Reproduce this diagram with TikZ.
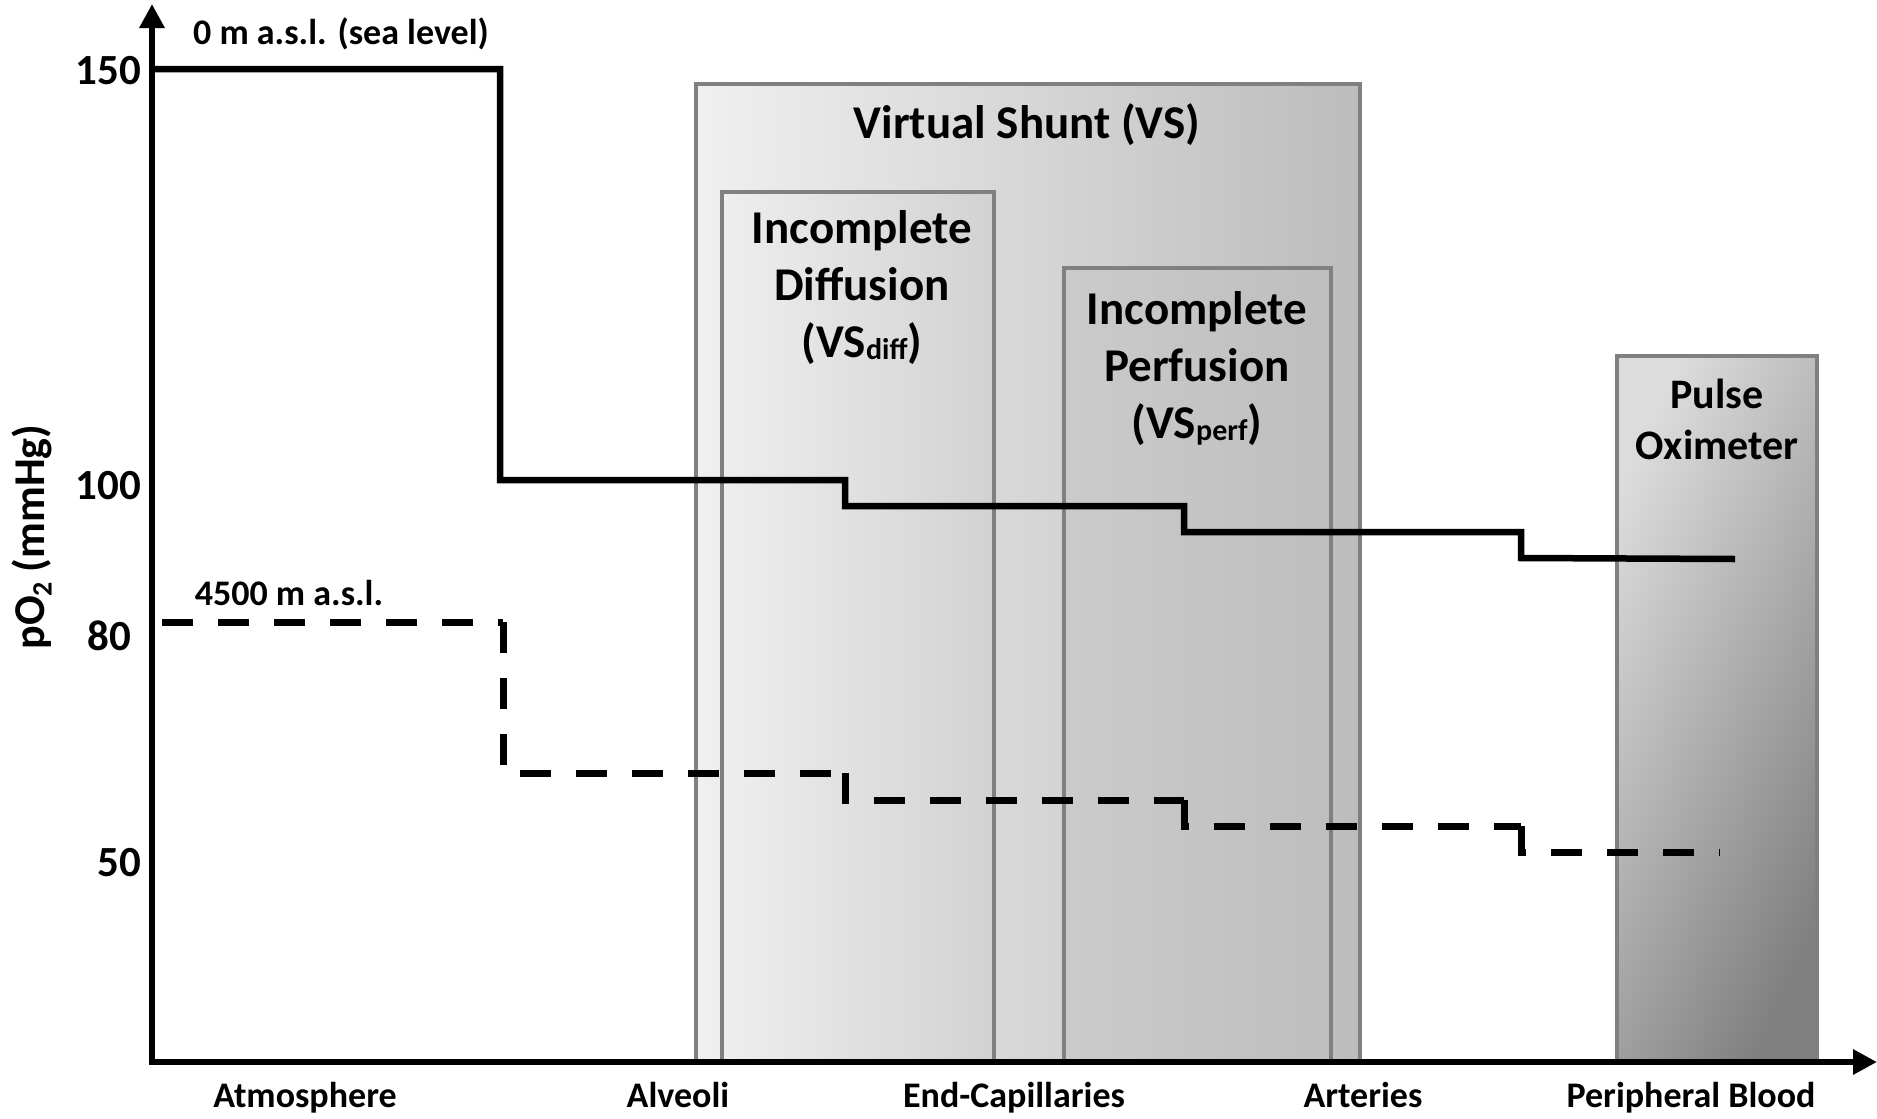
\documentclass[tikz,border=0pt]{standalone}
\usepackage{fontspec}
\setmainfont{Carlito}
\usetikzlibrary{arrows.meta}
\definecolor{bordergray}{HTML}{808080}
\definecolor{vsL}{HTML}{F0F0F0}
\definecolor{vsR}{HTML}{BCBCBC}
\definecolor{dfL}{HTML}{EEEEEE}
\definecolor{dfR}{HTML}{D2D2D2}
\definecolor{pfL}{HTML}{CBCBCB}
\definecolor{pfR}{HTML}{BEBEBE}
\definecolor{poL}{HTML}{DCDCDC}
\definecolor{poR}{HTML}{808080}
\newcommand\myfs[2]{\fontsize{#1}{#2}\selectfont}
\begin{document}
\begin{tikzpicture}[x=1pt,y=-1pt,
  region/.style={draw=bordergray, line width=4.5pt, inner sep=0pt, outer sep=0pt, anchor=north west},
  axisline/.style={line width=6.5pt, -{Triangle[width=24pt,length=24pt]}},
  sealine/.style={line width=6.5pt, line join=miter},
  altline/.style={line width=7pt, dash pattern=on 31pt off 25pt},
  boxtext/.style={font=\bfseries\myfs{47}{57}, align=center, inner sep=0pt},
  ticklabel/.style={font=\bfseries\myfs{43}{43}, anchor=east, inner sep=0pt},
  xlabel/.style={font=\bfseries\myfs{36}{36}, inner sep=0pt, anchor=base},
  note/.style={font=\bfseries\myfs{36}{36}, inner sep=0pt}]
\useasboundingbox (0,0) rectangle (1877,1119);

% regions
\node[region, left color=vsL, right color=vsR, minimum width=664pt, minimum height=978pt] (vs) at (696,84) {};
\node[region, left color=dfL, right color=dfR, minimum width=272pt, minimum height=870pt] (diff) at (722,192) {};
\node[region, left color=pfL, right color=pfR, minimum width=267pt, minimum height=794pt] (perf) at (1064,268) {};
\node[region, top color=poL, bottom color=poR, shading angle=65, minimum width=200pt, minimum height=706pt] (pulse) at (1617,356) {};

% box texts
\node[boxtext] (vst) at (1027,125) {Virtual Shunt (VS)};
\node[boxtext] (dft) at (862,288) {Incomplete\\Diffusion\\(VS\raisebox{-2pt}{\myfs{30}{30}diff})};
\node[boxtext] (pft) at (1197,369) {Incomplete\\Perfusion\\(VS\raisebox{-2pt}{\myfs{30}{30}perf})};
\node[boxtext, font=\bfseries\myfs{42}{51}] (pot) at (1717,419) {Pulse\\Oximeter};

% axes
\coordinate (O) at (152,1062);
\coordinate (xstart) at (149,1062);
\coordinate (ystart) at (152,1065);
\coordinate (ytip) at (152,4);
\coordinate (xtip) at (1877,1062);
\draw[axisline] (ystart) -- (ytip);
\draw[axisline] (xstart) -- (xtip);

% sea level line
\coordinate (s0) at (152,69);
\coordinate (s1) at (500,69);
\coordinate (s2) at (500,480);
\coordinate (s3) at (845,480);
\coordinate (s4) at (845,506);
\coordinate (s5) at (1184,506);
\coordinate (s6) at (1184,532);
\coordinate (s7) at (1521,532);
\coordinate (s8) at (1521,558);
\coordinate (s9) at (1735,559);
\draw[sealine] (s0) -- (s1) -- (s2) -- (s3) -- (s4) -- (s5) -- (s6) -- (s7) -- (s8) -- (s9);

% 4500 m line
\coordinate (d0) at (162,622);
\coordinate (d1) at (503,622);
\coordinate (d2) at (503,773);
\coordinate (d3) at (845,773);
\coordinate (d4) at (845,800);
\coordinate (d5) at (1184,800);
\coordinate (d6) at (1184,826);
\coordinate (d7) at (1521,826);
\coordinate (d8) at (1521,852);
\coordinate (d9) at (1720,852);
\draw[altline] (d0) -- (d1);
\draw[altline] (d1) -- (d2) -- (d3);
\draw[altline] (d3) -- (d4) -- (d5);
\draw[altline] (d5) -- (d6) -- (d7);
\draw[altline] (d7) -- (d8) -- (d9);

% annotations
\node[note] (sea) at (341,34) {0 m a.s.l. (sea level)};
\node[note] (alt) at (289,593) {4500 m a.s.l.};

% tick labels
\node[ticklabel] (t150) at (141,71) {150};
\node[ticklabel] (t100) at (141,486) {100};
\node[ticklabel] (t80) at (131,636) {80};
\node[ticklabel] (t50) at (141,863) {50};

% axis label
\node[font=\bfseries\myfs{44}{44}, rotate=90, inner sep=0pt] (ylab) at (32,537) {pO\raisebox{-7pt}{\myfs{28}{28}2} (mmHg)};

% x labels
\node[xlabel] (xa) at (305,1107) {Atmosphere};
\node[xlabel] (xb) at (678,1107) {Alveoli};
\node[xlabel] (xc) at (1014,1107) {End-Capillaries};
\node[xlabel] (xd) at (1363,1107) {Arteries};
\node[xlabel] (xe) at (1691,1107) {Peripheral Blood};
\end{tikzpicture}
\end{document}
